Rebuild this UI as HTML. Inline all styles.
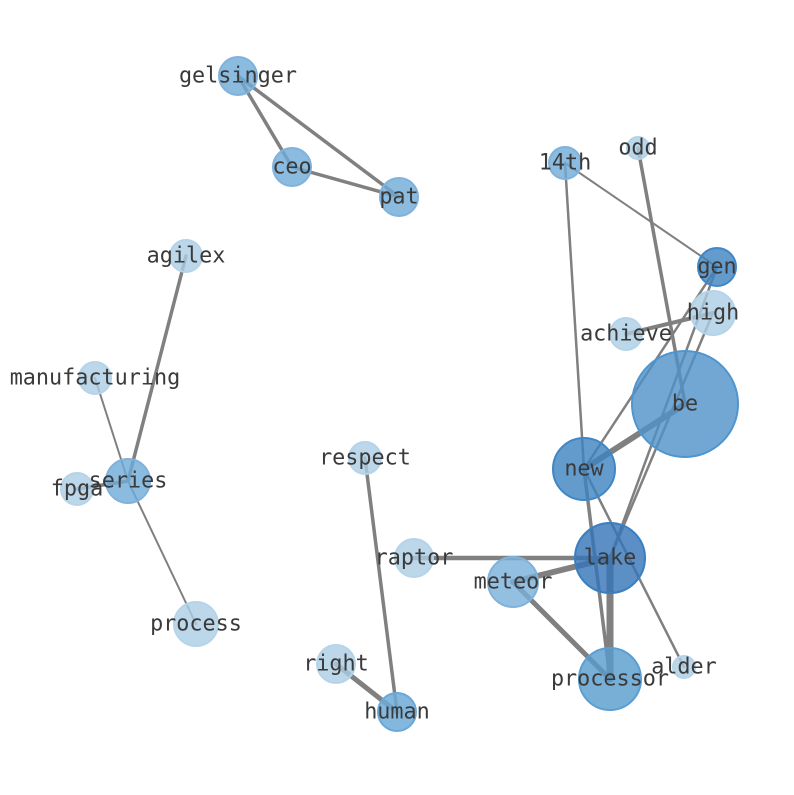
<!DOCTYPE html>
<html><head><meta charset="utf-8"><style>
html,body{margin:0;padding:0;background:#fff;}
svg text{font-family:"DejaVu Sans Mono","Liberation Mono",monospace;font-size:21.8px;fill:#3a3a3a;text-anchor:middle;dominant-baseline:central;}
</style></head><body>
<svg width="794" height="790" viewBox="0 0 794 790" xmlns="http://www.w3.org/2000/svg">
<g stroke="#808080" stroke-linecap="round" fill="none">
<line x1="238" y1="76" x2="292" y2="167" stroke-width="3.5"/>
<line x1="238" y1="76" x2="399" y2="197" stroke-width="3.5"/>
<line x1="292" y1="167" x2="399" y2="197" stroke-width="3.5"/>
<line x1="186" y1="256" x2="128" y2="481" stroke-width="3.5"/>
<line x1="95" y1="378" x2="128" y2="481" stroke-width="2"/>
<line x1="77" y1="489" x2="128" y2="481" stroke-width="3.5"/>
<line x1="128" y1="481" x2="196" y2="624" stroke-width="2"/>
<line x1="365" y1="458" x2="397" y2="712" stroke-width="3.5"/>
<line x1="336" y1="664" x2="397" y2="712" stroke-width="5"/>
<line x1="414" y1="558" x2="610" y2="558" stroke-width="4.5"/>
<line x1="513" y1="582" x2="610" y2="558" stroke-width="6"/>
<line x1="513" y1="582" x2="610" y2="679" stroke-width="5"/>
<line x1="610" y1="558" x2="610" y2="679" stroke-width="7"/>
<line x1="584" y1="469" x2="610" y2="679" stroke-width="3.5"/>
<line x1="584" y1="469" x2="685" y2="404" stroke-width="6"/>
<line x1="584" y1="469" x2="684" y2="667" stroke-width="2.5"/>
<line x1="565" y1="163" x2="584" y2="469" stroke-width="2.5"/>
<line x1="565" y1="163" x2="717" y2="267" stroke-width="2"/>
<line x1="638" y1="148" x2="685" y2="404" stroke-width="3.5"/>
<line x1="717" y1="267" x2="584" y2="469" stroke-width="2.5"/>
<line x1="717" y1="267" x2="610" y2="558" stroke-width="2.5"/>
<line x1="713" y1="313" x2="610" y2="558" stroke-width="2.5"/>
<line x1="626" y1="334" x2="713" y2="313" stroke-width="4"/>
</g>
<g stroke-width="2">
<circle cx="238" cy="76" r="19" fill="rgba(110,170,215,0.8)" stroke="#7fb2dc"/>
<circle cx="292" cy="167" r="19" fill="rgba(110,170,215,0.8)" stroke="#7fb2dc"/>
<circle cx="399" cy="197" r="19" fill="rgba(110,170,215,0.8)" stroke="#7fb2dc"/>
<circle cx="186" cy="256" r="16" fill="rgba(170,205,228,0.8)" stroke="#b5d4ea"/>
<circle cx="95" cy="378" r="16" fill="rgba(170,205,228,0.8)" stroke="#b5d4ea"/>
<circle cx="128" cy="481" r="22" fill="rgba(110,170,215,0.8)" stroke="#7fb2dc"/>
<circle cx="77" cy="489" r="16" fill="rgba(170,205,228,0.8)" stroke="#b5d4ea"/>
<circle cx="196" cy="624" r="22" fill="rgba(170,205,228,0.8)" stroke="#b5d4ea"/>
<circle cx="365" cy="458" r="16" fill="rgba(170,205,228,0.8)" stroke="#b5d4ea"/>
<circle cx="414" cy="558" r="19" fill="rgba(170,205,228,0.8)" stroke="#b5d4ea"/>
<circle cx="336" cy="664" r="19" fill="rgba(170,205,228,0.8)" stroke="#b5d4ea"/>
<circle cx="397" cy="712" r="19" fill="rgba(110,170,215,0.85)" stroke="#6aa8d8"/>
<circle cx="513" cy="582" r="25" fill="rgba(120,175,218,0.8)" stroke="#7fb2dc"/>
<circle cx="685" cy="404" r="53" fill="rgba(80,145,200,0.8)" stroke="#4f95cf"/>
<circle cx="584" cy="469" r="31" fill="rgba(60,130,192,0.8)" stroke="#3f87c6"/>
<circle cx="610" cy="558" r="35" fill="rgba(50,115,182,0.8)" stroke="#3a7fc0"/>
<circle cx="610" cy="679" r="31" fill="rgba(85,155,205,0.8)" stroke="#5a9fd3"/>
<circle cx="684" cy="667" r="11" fill="rgba(170,205,228,0.8)" stroke="#b5d4ea"/>
<circle cx="565" cy="163" r="16" fill="rgba(110,170,215,0.8)" stroke="#7fb2dc"/>
<circle cx="638" cy="148" r="11" fill="rgba(170,205,228,0.8)" stroke="#b5d4ea"/>
<circle cx="717" cy="267" r="19" fill="rgba(60,130,192,0.8)" stroke="#3f87c6"/>
<circle cx="713" cy="313" r="22" fill="rgba(170,205,228,0.8)" stroke="#b5d4ea"/>
<circle cx="626" cy="334" r="16" fill="rgba(170,205,228,0.8)" stroke="#b5d4ea"/>
</g>
<g>
<text x="238" y="76">gelsinger</text>
<text x="292" y="167">ceo</text>
<text x="399" y="197">pat</text>
<text x="186" y="256">agilex</text>
<text x="95" y="378">manufacturing</text>
<text x="128" y="481">series</text>
<text x="77" y="489">fpga</text>
<text x="196" y="624">process</text>
<text x="365" y="458">respect</text>
<text x="414" y="558">raptor</text>
<text x="336" y="664">right</text>
<text x="397" y="712">human</text>
<text x="513" y="582">meteor</text>
<text x="685" y="404">be</text>
<text x="584" y="469">new</text>
<text x="610" y="558">lake</text>
<text x="610" y="679">processor</text>
<text x="684" y="667">alder</text>
<text x="565" y="163">14th</text>
<text x="638" y="148">odd</text>
<text x="717" y="267">gen</text>
<text x="713" y="313">high</text>
<text x="626" y="334">achieve</text>
</g>
</svg>
</body></html>
